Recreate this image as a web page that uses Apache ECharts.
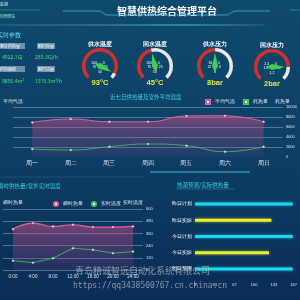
<!DOCTYPE html>
<html>
<head>
<meta charset="utf-8">
<script src="https://cdn.jsdelivr.net/npm/echarts@6/dist/echarts.min.js"></script>
<style>
  html, body { margin: 0; padding: 0; background: #0c3a5e; }
  #main { width: 300px; height: 300px; }
</style>
</head>
<body>
<div id="main"></div>
<script>
// data
const weekDays = ['周一', '周二', '周三', '周四', '周五', '周六', '周日'];
const weekTemp = [17.3, 19, 17.6, 17.6, 20.5, 20.6, 17.6];
const weekHeat = [1600, 1400, 2060, 2600, 2260, 1060, 2060];

const hours = ['0:00', '4:00', '8:00', '12:00', '16:00', '20:00', '24:00'];
const hourHeat = [335, 385, 357, 371, 352, 352, 357];
const hourTemp = [92, 72, 116, 215, 198, 165, 181];

const barCats = ['昨日计划', '昨日实际', '今日计划', '今日实际', '明日预测'];
const barValues = [165, 129, 165, 125, 165];

const gaugeNames = ['供水温度', '回水温度', '供水压力', '回水压力'];
const gaugeValues = [93, 45, 8, 2];
const gaugeMax = [100, 100, 16, 2.4];
const gaugeUnits = ['°C', '°C', 'bar', 'bar'];

const statNames = ['累计供热量', '瞬时热量', '供热面积', '瞬时流量'];
const statValues = ['4522.1GJ', '255.3GJ/h', '9850.4m²', '1315.3m³/h'];

const chart = echarts.init(document.getElementById('main'));

const pink = '#e0609c';
const green = '#3cc865';
const txt = '#d8e4ee';
const gridLine = 'rgba(170,190,210,0.55)';

function gauge(i, cx, cy) {
  return {
    type: 'gauge',
    center: [cx, cy],
    radius: 18,
    startAngle: 225,
    endAngle: -45,
    min: 0,
    max: gaugeMax[i],
    splitNumber: 4,
    axisLine: {
      lineStyle: {
        width: 3.5,
        color: [[gaugeValues[i] / gaugeMax[i], '#d3302d'], [1, '#e8e8e8']]
      }
    },
    axisTick: { show: false },
    splitLine: { show: false },
    axisLabel: {
      distance: 2,
      fontSize: 3.5,
      color: '#fff',
      formatter: (v) => Math.round(v * 10) / 10
    },
    pointer: { length: '72%', width: 3, itemStyle: { color: '#3fd04f' } },
    anchor: { show: false },
    title: {
      offsetCenter: [0, -22],
      fontSize: 6,
      fontWeight: 'bold',
      color: '#fff'
    },
    detail: {
      offsetCenter: [0, 17],
      fontSize: 7.5,
      fontWeight: 'bold',
      color: '#e4e83a',
      formatter: (v) => v + gaugeUnits[i]
    },
    data: [{ value: gaugeValues[i], name: gaugeNames[i] }]
  };
}

const graphic = [
  // header
  { type: 'text', left: 117, top: 6, style: { text: '智慧供热综合管理平台', fill: '#fff', font: 'bold 10px "Noto Sans CJK SC"' } },
  { type: 'polyline', shape: { points: [[63, 11], [100, 11], [106, 15], [228, 15], [234, 11], [270, 11]] }, style: { stroke: '#4aa8d0', lineWidth: 0.8, fill: null } },
  { type: 'line', shape: { x1: 0, y1: 10, x2: 40, y2: 10 }, style: { stroke: 'rgba(120,200,230,0.5)', lineWidth: 0.6 } },
  { type: 'line', shape: { x1: 290, y1: 10, x2: 300, y2: 10 }, style: { stroke: 'rgba(120,200,230,0.6)', lineWidth: 0.6 } },
  {
    type: 'line', shape: { x1: 0, y1: 25, x2: 265, y2: 25 },
    style: {
      lineWidth: 1,
      stroke: new echarts.graphic.LinearGradient(0, 0, 1, 0, [
        { offset: 0, color: 'rgba(60,160,200,0.4)' },
        { offset: 0.7, color: 'rgba(80,210,230,0.9)' },
        { offset: 1, color: 'rgba(80,210,230,0.2)' }
      ])
    }
  },
  { type: 'text', left: -8, top: 2, style: { text: '实时监测', fill: '#e0f0ff', font: '4px "Noto Sans CJK SC"' } },
  { type: 'text', left: -5, top: 14, style: { text: '供热管理站', fill: '#8ff0d0', font: '4px "Noto Sans CJK SC"' } },
  { type: 'text', left: -3, top: 32, style: { text: '实时参数', fill: '#5fd4f0', font: '6px "Noto Sans CJK SC"' } },
  // stats badges
  { type: 'rect', shape: { x: -2, y: 43, width: 27, height: 6 }, style: { fill: 'rgba(150,175,200,0.7)' } },
  { type: 'rect', shape: { x: 37, y: 43, width: 18, height: 6 }, style: { fill: 'rgba(150,175,200,0.7)' } },
  { type: 'rect', shape: { x: -2, y: 66, width: 27, height: 6 }, style: { fill: 'rgba(150,175,200,0.7)' } },
  { type: 'rect', shape: { x: 37, y: 66, width: 18, height: 6 }, style: { fill: 'rgba(150,175,200,0.7)' } },
  { type: 'text', left: 0, top: 44, style: { text: statNames[0], fill: '#fff', font: '4px "Noto Sans CJK SC"' } },
  { type: 'text', left: 38, top: 44, style: { text: statNames[1], fill: '#fff', font: '4px "Noto Sans CJK SC"' } },
  { type: 'text', left: 0, top: 67, style: { text: statNames[2], fill: '#fff', font: '4px "Noto Sans CJK SC"' } },
  { type: 'text', left: 38, top: 67, style: { text: statNames[3], fill: '#fff', font: '4px "Noto Sans CJK SC"' } },
  { type: 'text', left: 2, top: 55, style: { text: statValues[0], fill: '#3ee07a', font: '5px "Noto Sans"' } },
  { type: 'text', left: 35, top: 55, style: { text: statValues[1], fill: '#3ee07a', font: '5px "Noto Sans"' } },
  { type: 'text', left: 2, top: 79, style: { text: statValues[2], fill: '#3ee07a', font: '5px "Noto Sans"' } },
  { type: 'text', left: 35, top: 79, style: { text: statValues[3], fill: '#3ee07a', font: '5px "Noto Sans"' } },
  // section titles
  { type: 'text', left: 110, top: 94, style: { text: '近七日供热量及室外平均温度', fill: '#3ad0e8', font: '5.5px "Noto Sans CJK SC"' } },
  { type: 'text', left: -2, top: 183, style: { text: '瞬时供热量/室外实时温度', fill: '#3ad0e8', font: '5.5px "Noto Sans CJK SC"' } },
  { type: 'text', left: 177, top: 182, style: { text: '热源预测/实际供热量', fill: '#3ad0e8', font: '5.5px "Noto Sans CJK SC"' } },
  { type: 'line', shape: { x1: 176, y1: 189, x2: 234, y2: 189 }, style: { stroke: 'rgba(80,200,230,0.6)', lineWidth: 0.5 } },
  { type: 'line', shape: { x1: 0, y1: 177, x2: 145, y2: 177 }, style: { stroke: 'rgba(80,170,220,0.35)', lineWidth: 0.6 } },
  { type: 'line', shape: { x1: 150, y1: 172, x2: 250, y2: 172 }, style: { stroke: 'rgba(80,210,240,0.8)', lineWidth: 1 } },
  // watermark
  { type: 'text', left: 75, top: 266, z: 100, style: { text: '青岛精诚智远自动化系统有限公司', fill: 'rgba(215,215,225,0.6)', font: '9px "Noto Sans CJK SC"' } },
  { type: 'text', left: 73, top: 282, z: 100, style: { text: 'https://qq3438500767.cn.china.cn', fill: 'rgba(215,215,225,0.6)', font: '8px "DejaVu Sans Mono"' } }
];

const option = {
  backgroundColor: new echarts.graphic.LinearGradient(0, 0, 0, 1, [
    { offset: 0, color: '#0e4a6e' },
    { offset: 0.5, color: '#0d3f66' },
    { offset: 1, color: '#0a2d55' }
  ]),
  animation: false,
  graphic: graphic,
  legend: [
    {
      left: 200, top: 94, itemWidth: 4, itemHeight: 4, itemGap: 8, icon: 'rect',
      textStyle: { fontSize: 5, color: txt },
      data: ['平均气温', '耗热量']
    },
    {
      left: 48, top: 196, itemWidth: 4, itemHeight: 4, itemGap: 8, icon: 'circle',
      textStyle: { fontSize: 5, color: txt },
      data: ['瞬时热量', '实时温度']
    }
  ],
  grid: [
    { left: 4, right: 14, top: 107, height: 50 },
    { left: 3, width: 140, top: 209, height: 61 },
    { left: 195, width: 130, top: 196, height: 81 }
  ],
  xAxis: [
    {
      type: 'category', gridIndex: 0, data: weekDays,
      axisLine: { show: false },
      axisTick: { length: 1.5, lineStyle: { color: gridLine } },
      axisLabel: { fontSize: 5.5, color: txt, margin: 3 }
    },
    {
      type: 'category', gridIndex: 1, data: hours,
      axisLine: { show: false },
      axisTick: { show: false },
      axisLabel: { fontSize: 4.5, color: txt, margin: 4 }
    },
    {
      type: 'value', gridIndex: 2, min: 0, max: 500 / 3, interval: 100 / 3,
      axisLine: { show: false },
      axisTick: { show: false },
      splitLine: { show: false },
      axisLabel: { fontSize: 4, color: txt, margin: 6, formatter: (v) => Math.round(v) }
    }
  ],
  yAxis: [
    {
      type: 'value', gridIndex: 0, min: 0, max: 25, interval: 5,
      name: '平均气温', nameGap: 3, nameTextStyle: { fontSize: 5, color: txt },
      axisLabel: { show: false },
      axisLine: { show: false },
      splitLine: { lineStyle: { width: 0.8, color: ['transparent', gridLine, gridLine, gridLine, gridLine, gridLine] } }
    },
    {
      type: 'value', gridIndex: 0, position: 'right', min: 0, max: 10000, interval: 2000,
      name: '耗热量', nameGap: 3, nameTextStyle: { fontSize: 5, color: txt },
      axisLabel: { fontSize: 4, color: txt, margin: 3, formatter: (v) => String(v) },
      axisLine: { show: false },
      splitLine: { show: false }
    },
    {
      type: 'value', gridIndex: 1, min: 0, max: 500, interval: 100,
      name: '瞬时热量', nameGap: 4, nameTextStyle: { fontSize: 5, color: txt, align: 'left' },
      axisLabel: { show: false },
      axisLine: { show: false },
      splitLine: { lineStyle: { width: 0.8, color: gridLine } }
    },
    {
      type: 'value', gridIndex: 1, position: 'right', min: 0, max: 600, interval: 120,
      name: '实时温度', nameGap: 4, nameTextStyle: { fontSize: 5, color: txt, align: 'right' },
      axisLabel: { fontSize: 4, color: txt, margin: 3 },
      axisLine: { show: false },
      splitLine: { show: false }
    },
    {
      type: 'category', gridIndex: 2, data: barCats, inverse: true,
      axisLine: { show: false },
      axisTick: { show: false },
      axisLabel: { fontSize: 4.5, color: '#fff', margin: 3 }
    }
  ],
  series: [
    {
      name: '平均气温', type: 'line', xAxisIndex: 0, yAxisIndex: 0, data: weekTemp,
      smooth: true, symbol: 'circle', symbolSize: 2,
      itemStyle: { color: '#fff', borderColor: pink, borderWidth: 0.5 },
      lineStyle: { color: pink, width: 1 },
      areaStyle: {
        color: new echarts.graphic.LinearGradient(0, 0, 0, 1, [
          { offset: 0, color: 'rgba(215,80,140,0.75)' },
          { offset: 1, color: 'rgba(150,60,130,0.15)' }
        ])
      }
    },
    {
      name: '耗热量', type: 'line', xAxisIndex: 0, yAxisIndex: 1, data: weekHeat,
      smooth: true, symbol: 'circle', symbolSize: 2,
      itemStyle: { color: '#fff', borderColor: green, borderWidth: 0.5 },
      lineStyle: { color: green, width: 0.8 }
    },
    {
      name: '瞬时热量', type: 'line', xAxisIndex: 1, yAxisIndex: 2, data: hourHeat,
      smooth: true, symbol: 'circle', symbolSize: 2,
      itemStyle: { color: '#fff', borderColor: pink, borderWidth: 0.5 },
      lineStyle: { color: pink, width: 1.2 },
      areaStyle: {
        color: new echarts.graphic.LinearGradient(0, 0, 0, 1, [
          { offset: 0, color: 'rgba(215,80,140,0.75)' },
          { offset: 1, color: 'rgba(150,60,130,0.2)' }
        ])
      }
    },
    {
      name: '实时温度', type: 'line', xAxisIndex: 1, yAxisIndex: 3, data: hourTemp,
      symbol: 'circle', symbolSize: 2,
      itemStyle: { color: '#fff', borderColor: green, borderWidth: 0.5 },
      lineStyle: { color: green, width: 0.8 }
    },
    {
      type: 'bar', xAxisIndex: 2, yAxisIndex: 4, barWidth: 3,
      data: barValues.map((v, i) => ({
        value: v,
        itemStyle: {
          color: barCats[i].includes('实际') ? '#e8ef2a' : '#18d8f2',
          shadowBlur: 3,
          shadowColor: barCats[i].includes('实际') ? 'rgba(232,239,42,0.6)' : 'rgba(24,216,242,0.6)'
        }
      }))
    },
    gauge(0, 100, 66),
    gauge(1, 155, 66),
    gauge(2, 215, 66),
    gauge(3, 272, 67)
  ]
};

chart.setOption(option);
</script>
</body>
</html>
